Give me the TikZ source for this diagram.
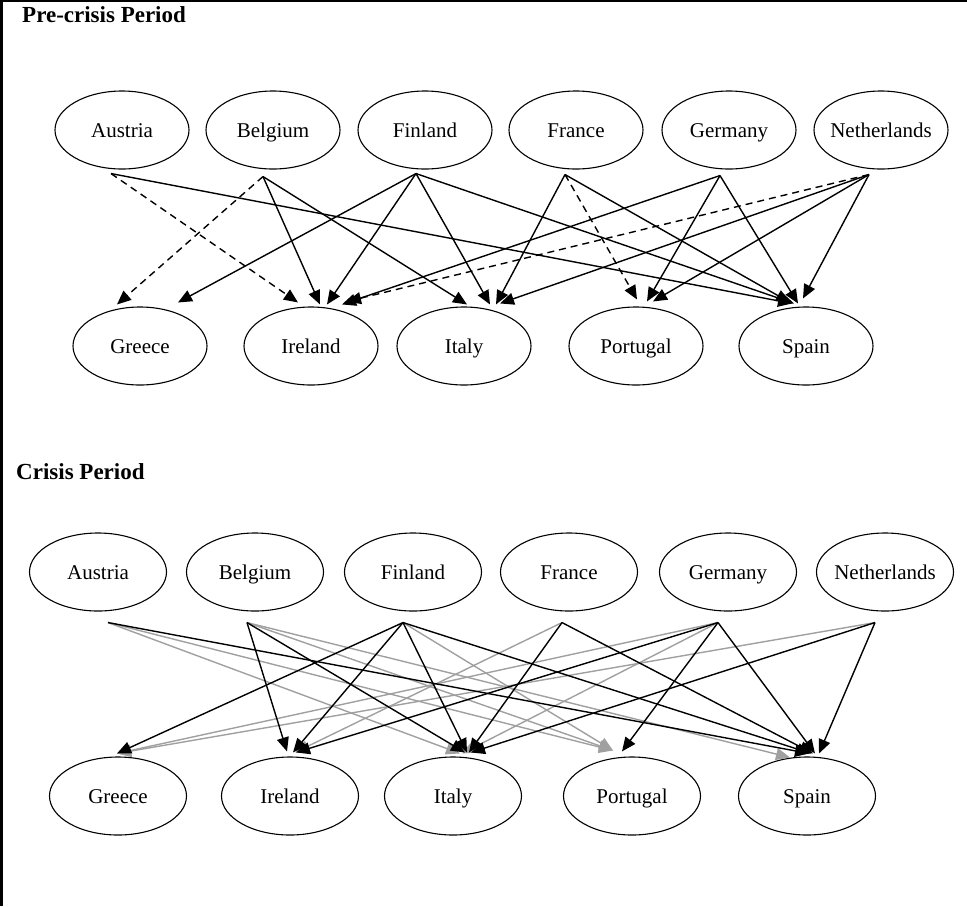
\documentclass[tikz,border=0pt]{standalone}
\usepackage{fontspec}
\setmainfont{Liberation Serif}
\usetikzlibrary{shapes.geometric,arrows.meta}
\definecolor{lightg}{RGB}{160,160,160}
\begin{document}
\begin{tikzpicture}[x=1pt,y=-1pt,
  cnode/.style={ellipse,draw,line width=1.1pt,minimum width=134pt,minimum height=78pt,inner sep=0pt,text height=15pt,text depth=1pt,font=\fontsize{21}{25}\selectfont},
  dnode/.style={cnode,minimum width=137pt},
  edge/.style={line width=1.4pt,-{Triangle[length=14pt,width=12pt]}},
  gedge/.style={edge,draw=lightg,-{Triangle[length=14pt,width=12pt,fill=lightg]}},
  dedge/.style={edge,dash pattern=on 7pt off 5pt},
  ttl/.style={font=\fontsize{23}{27}\selectfont\bfseries,anchor=base west,inner sep=0pt}]
\path[use as bounding box] (0,0) rectangle (967,906);
\fill (0,0) rectangle (967,2);
\fill (0,0) rectangle (2.5,906);

% ---------- Pre-crisis ----------
\node[ttl] (t1) at (22,22) {Pre-crisis Period};
\node[cnode] (aus1) at (122,130) {Austria};
\node[cnode] (bel1) at (273,130) {Belgium};
\node[cnode] (fin1) at (425,130) {Finland};
\node[cnode] (fra1) at (576,130) {France};
\node[cnode] (ger1) at (729,130) {Germany};
\node[cnode] (net1) at (881,130) {\makebox[0pt]{Netherlands}};
\node[cnode] (gre1) at (140,346) {Greece};
\node[cnode] (ire1) at (311,346) {Ireland};
\node[cnode] (ita1) at (464,346) {Italy};
\node[cnode] (por1) at (636,346) {Portugal};
\node[cnode] (spa1) at (806,346) {Spain};

\coordinate (aus1t) at ([xshift=-11pt,yshift=-4pt]aus1.south);
\coordinate (bel1t) at ([xshift=-10pt,yshift=-7pt]bel1.south);
\coordinate (fin1t) at ([xshift=-9pt,yshift=-4pt]fin1.south);
\coordinate (fra1t) at ([xshift=-11pt,yshift=-5pt]fra1.south);
\coordinate (ger1t) at ([xshift=-9pt,yshift=-6pt]ger1.south);
\coordinate (net1t) at ([xshift=-12pt,yshift=-5pt]net1.south);

\draw[dedge] (aus1t) -- ([xshift=-13pt,yshift=4pt]ire1.north);
\draw[edge]  (aus1t) -- ([xshift=-14pt,yshift=3pt]spa1.north);
\draw[dedge] (bel1t) -- ([xshift=-23pt,yshift=2pt]gre1.north);
\draw[edge]  (bel1t) -- ([xshift=9pt,yshift=2pt]ire1.north);
\draw[edge]  (bel1t) -- ([xshift=3pt,yshift=2pt]ita1.north);
\draw[edge]  (fin1t) -- ([xshift=38pt,yshift=4pt]gre1.north);
\draw[edge]  (fin1t) -- ([xshift=16pt,yshift=2pt]ire1.north);
\draw[edge]  (fin1t) -- ([xshift=26pt,yshift=2pt]ita1.north);
\draw[edge]  (fin1t) -- ([xshift=-12pt,yshift=3pt]spa1.north);
\draw[edge]  (fra1t) -- ([xshift=32pt,yshift=2pt]ita1.north);
\draw[dedge] (fra1t) -- ([xshift=1pt,yshift=7pt]por1.north);
\draw[edge]  (fra1t) -- ([xshift=-16pt,yshift=4pt]spa1.north);
\draw[edge]  (ger1t) -- ([xshift=31pt,yshift=2pt]ire1.north);
\draw[edge]  (ger1t) -- ([xshift=11pt,yshift=5pt]por1.north);
\draw[edge]  (ger1t) -- ([xshift=-8pt,yshift=3pt]spa1.north);
\draw[dedge] (net1t) -- ([xshift=36pt,yshift=5pt]ire1.north);
\draw[edge]  (net1t) -- ([xshift=36pt,yshift=3pt]ita1.north);
\draw[edge]  (net1t) -- ([xshift=17pt,yshift=5pt]por1.north);
\draw[edge]  (net1t) -- ([xshift=-3pt,yshift=8pt]spa1.north);

% ---------- Crisis ----------
\node[ttl] (t2) at (16,479) {Crisis Period};
\node[dnode] (aus2) at (98,572) {Austria};
\node[dnode] (bel2) at (255,572) {Belgium};
\node[dnode] (fin2) at (413,572) {Finland};
\node[dnode] (fra2) at (569,572) {France};
\node[dnode] (ger2) at (728,572) {Germany};
\node[dnode] (net2) at (885,572) {\makebox[0pt]{Netherlands}};
\node[dnode] (gre2) at (118,796) {Greece};
\node[dnode] (ire2) at (290,796) {Ireland};
\node[dnode] (ita2) at (453,796) {Italy};
\node[dnode] (por2) at (632,796) {Portugal};
\node[dnode] (spa2) at (807,796) {Spain};

\coordinate (aus2t) at ([xshift=10pt,yshift=-11pt]aus2.south);
\coordinate (bel2t) at ([xshift=-8pt,yshift=-11pt]bel2.south);
\coordinate (fin2t) at ([xshift=-10pt,yshift=-11pt]fin2.south);
\coordinate (fra2t) at ([xshift=-7pt,yshift=-11pt]fra2.south);
\coordinate (ger2t) at ([xshift=-10pt,yshift=-11pt]ger2.south);
\coordinate (net2t) at ([xshift=-10pt,yshift=-11pt]net2.south);

% gray edges first
\draw[gedge] (aus2t) -- ([xshift=7pt,yshift=3pt]ita2.north);
\draw[gedge] (aus2t) -- ([xshift=-19pt,yshift=6pt]por2.north);
\draw[gedge] (bel2t) -- ([xshift=-19pt,yshift=6pt]por2.north);
\draw[gedge] (bel2t) -- ([xshift=-17pt,yshift=-1pt]spa2.north);
\draw[gedge] (fin2t) -- ([xshift=-19pt,yshift=6pt]por2.north);
\draw[gedge] (fra2t) -- ([xshift=5pt,yshift=4pt]ire2.north);
\draw[gedge] (ger2t) -- ([xshift=-1pt,yshift=3pt]gre2.north);
\draw[gedge] (ger2t) -- ([xshift=9pt,yshift=3pt]ita2.north);
\draw[gedge] (net2t) -- ([xshift=-1pt,yshift=3pt]gre2.north);
% black edges
\draw[edge] (aus2t) -- ([xshift=2pt,yshift=3pt]spa2.north);
\draw[edge] (bel2t) -- ([xshift=-3pt,yshift=5pt]ire2.north);
\draw[edge] (bel2t) -- ([xshift=12pt,yshift=4pt]ita2.north);
\draw[edge] (fin2t) -- ([xshift=-1pt,yshift=3pt]gre2.north);
\draw[edge] (fin2t) -- ([xshift=3pt,yshift=4pt]ire2.north);
\draw[edge] (fin2t) -- ([xshift=14pt,yshift=4pt]ita2.north);
\draw[edge] (fin2t) -- ([xshift=4pt,yshift=3pt]spa2.north);
\draw[edge] (fra2t) -- ([xshift=16pt,yshift=4pt]ita2.north);
\draw[edge] (fra2t) -- ([xshift=6pt,yshift=3pt]spa2.north);
\draw[edge] (ger2t) -- ([xshift=6pt,yshift=4pt]ire2.north);
\draw[edge] (ger2t) -- ([xshift=-10pt,yshift=5pt]por2.north);
\draw[edge] (ger2t) -- ([xshift=8pt,yshift=3pt]spa2.north);
\draw[edge] (net2t) -- ([xshift=18pt,yshift=4pt]ita2.north);
\draw[edge] (net2t) -- ([xshift=12pt,yshift=3pt]spa2.north);
\end{tikzpicture}
\end{document}
